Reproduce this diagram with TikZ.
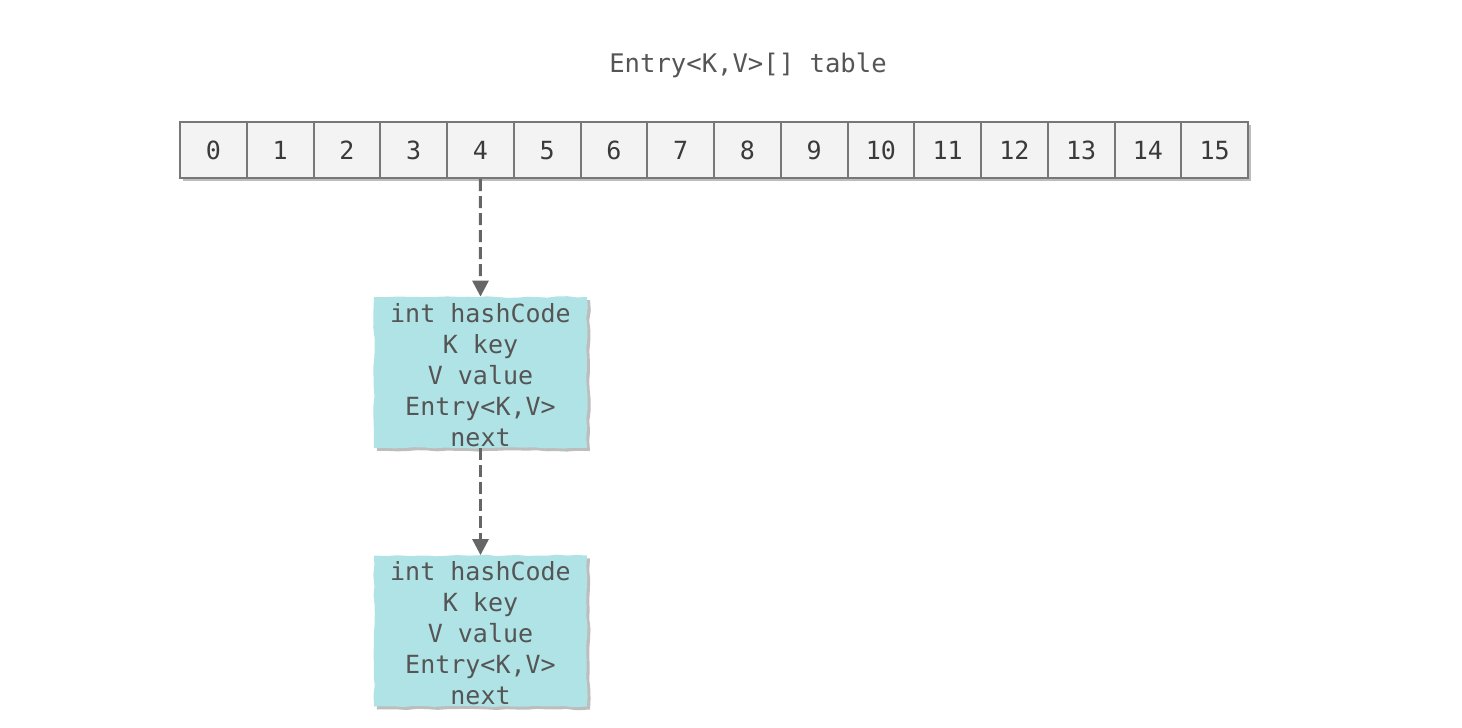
\documentclass[tikz,border=0pt]{standalone}
\usepackage{fontspec}
\setmainfont{DejaVu Sans Mono}
\usetikzlibrary{arrows.meta,shadows,decorations.pathmorphing}
\definecolor{txt}{HTML}{555555}
\definecolor{numtxt}{HTML}{3A3A3A}
\definecolor{cellborder}{HTML}{777777}
\definecolor{cellfill}{HTML}{F3F3F3}
\definecolor{shadowc}{HTML}{BDBDBD}
\definecolor{boxfill}{HTML}{B0E3E6}
\definecolor{arrowc}{HTML}{666666}
\begin{document}
\begin{tikzpicture}[x=0.5pt,y=-0.5pt,
  cell/.style={draw=cellborder, line width=1pt, fill=cellfill,
    minimum width=33.375pt, minimum height=28pt, inner sep=0pt,
    text height=9pt, text depth=0pt,
    font=\fontsize{12.5}{14}\selectfont, text=numtxt,
    drop shadow={shadow xshift=1.5pt, shadow yshift=-1.5pt, fill=shadowc, opacity=1}},
  entrybox/.style={fill=boxfill, minimum width=106.5pt, minimum height=75.5pt,
    inner sep=0pt,
    decorate, decoration={random steps, segment length=5pt, amplitude=0.4pt},
    drop shadow={shadow xshift=1.5pt, shadow yshift=-1.5pt, fill=shadowc, opacity=1}},
  boxtext/.style={align=center, text=txt, inner sep=0pt,
    font=\fontsize{12.5}{15.5}\selectfont},
  title/.style={text=txt, font=\fontsize{12.8}{15}\selectfont},
  conn/.style={draw=arrowc, line width=1.5pt, dash pattern=on 6pt off 2.5pt,
    -{Triangle[length=8pt,width=8pt]}}
]
\pgfmathsetseed{7}
\useasboundingbox (0,0) rectangle (1462,728);
\node[title] (t) at (748,65) {Entry<K,V>[] table};
\foreach \i in {0,...,15} {
  \node[cell] (c\i) at ({180+66.75*(\i+0.5)},150) {\i};
}
\node[entrybox] (b1) at (480.5,372.5) {};
\node[boxtext] (b1t) at (480.5,375) {int hashCode\\K key\\V value\\Entry<K,V>\\next};
\node[entrybox] (b2) at (480.5,631) {};
\node[boxtext] (b2t) at (480.5,633.5) {int hashCode\\K key\\V value\\Entry<K,V>\\next};
\draw[conn] (c4.south) -- (b1.north);
\draw[conn] (b1.south) -- (b2.north);
\end{tikzpicture}
\end{document}
